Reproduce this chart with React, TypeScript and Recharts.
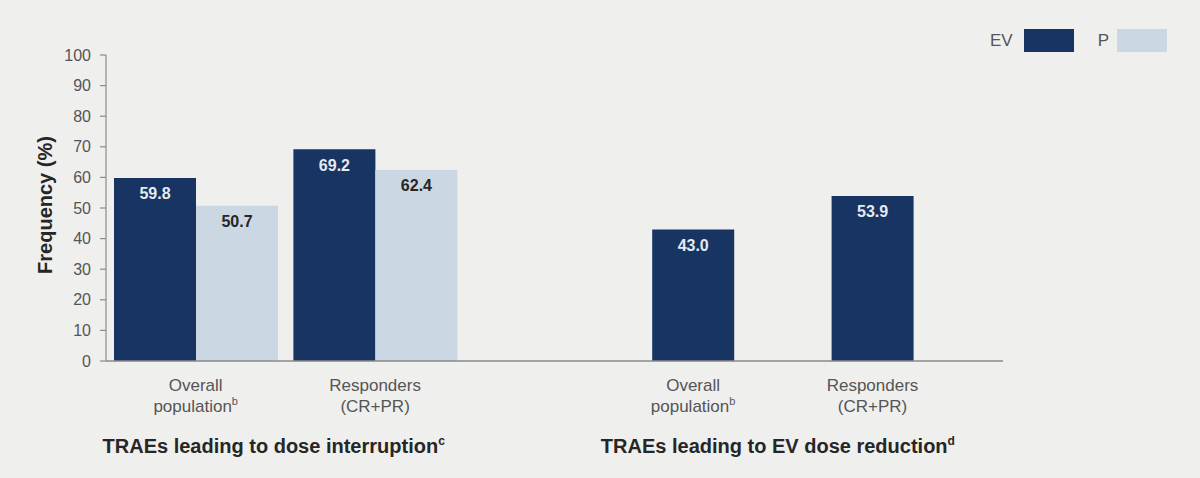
import { BarChart, Bar, XAxis, YAxis, LabelList, Label } from "recharts";

// categories (one empty slot separates the two groups)
const categoryIds = ["c1", "c2", "gap", "c3", "c4"];
const categoryLine1 = ["Overall", "Responders", "", "Overall", "Responders"];
const categoryLine2 = ["population", "(CR+PR)", "", "population", "(CR+PR)"];
const categorySup = ["b", "", "", "b", ""];

// group titles under the axis, anchored on the first category of each group
const groupStartIndex = [0, 3];
const groupTitles = ["TRAEs leading to dose interruption", "TRAEs leading to EV dose reduction"];
const groupSup = ["c", "d"];

// series values (%)
const evValues = [59.8, 69.2, null, 43.0, 53.9];
const pValues = [50.7, 62.4, null, null, null];

const yTicks = [0, 10, 20, 30, 40, 50, 60, 70, 80, 90, 100];
const seriesNames = ["EV", "P"];

const EV_COLOR = "#173462";
const P_COLOR = "#cbd7e3";
const BG = "#efefee";
const FONT = "'Liberation Sans', Arial, sans-serif";

const data = categoryIds.map((id, i) => ({ id, ev: evValues[i], p: pValues[i] }));

const titleShift = [78, 44];
// half a bar: single-bar categories get their label under the EV bar
const HALF_BAR = 40.8;

function CategoryTick(props: any) {
  const { x, y, index } = props;
  const g = groupStartIndex.indexOf(index);
  const lx = pValues[index] == null ? x - HALF_BAR : x;
  return (
    <g fontFamily={FONT}>
      <text x={lx} y={y + 30} textAnchor="middle" fontSize={17} fill="#555">
        {categoryLine1[index]}
      </text>
      <text x={lx} y={y + 51} textAnchor="middle" fontSize={17} fill="#555">
        {categoryLine2[index]}
        {categorySup[index] && (
          <tspan fontSize={11} dy={-7}>
            {categorySup[index]}
          </tspan>
        )}
      </text>
      {g >= 0 && (
        <text
          x={x + titleShift[g]}
          y={y + 92}
          textAnchor="middle"
          fontSize={20}
          fontWeight="bold"
          fill="#262626"
        >
          {groupTitles[g]}
          <tspan fontSize={12} dy={-8}>
            {groupSup[g]}
          </tspan>
        </text>
      )}
    </g>
  );
}

const fmt = (v: any) => (v == null ? "" : Number(v).toFixed(1));

export default function App() {
  return (
    <div
      style={{
        position: "absolute",
        left: 0,
        top: 0,
        width: 1200,
        height: 478,
        background: BG,
        fontFamily: FONT,
      }}
    >
      <div
        style={{
          position: "absolute",
          left: 990,
          top: 29,
          display: "flex",
          alignItems: "center",
          fontSize: 17,
          color: "#555",
        }}
      >
        <span>{seriesNames[0]}</span>
        <span style={{ width: 50, height: 23, background: EV_COLOR, marginLeft: 11 }} />
        <span style={{ marginLeft: 24 }}>{seriesNames[1]}</span>
        <span style={{ width: 50, height: 23, background: P_COLOR, marginLeft: 8 }} />
      </div>
      <BarChart
        width={1200}
        height={478}
        data={data}
        margin={{ top: 55, right: 197, bottom: 0, left: 20 }}
        barCategoryGap={8}
        barGap={0}
      >
        <XAxis
          dataKey="id"
          height={117}
          tickLine={false}
          tickSize={0}
          tickMargin={0}
          stroke="#8a8a8a"
          strokeWidth={1.5}
          interval={0}
          tick={<CategoryTick />}
        />
        <YAxis
          width={86}
          domain={[0, 100]}
          ticks={yTicks}
          interval={0}
          stroke="#8a8a8a"
          strokeWidth={1.2}
          tickSize={6}
          tickMargin={9}
          tick={{ fill: "#555", fontSize: 16, fontFamily: FONT }}
        >
          <Label
            content={(p: any) => {
              const vb = p.viewBox;
              const cx = vb.x + 25;
              const cy = vb.y + vb.height / 2 - 3;
              return (
                <text
                  x={cx}
                  y={cy}
                  transform={`rotate(-90, ${cx}, ${cy})`}
                  textAnchor="middle"
                  dominantBaseline="central"
                  fontSize={20}
                  fontWeight="bold"
                  fontFamily={FONT}
                  fill="#262626"
                >
                  Frequency (%)
                </text>
              );
            }}
          />
        </YAxis>
        <Bar dataKey="ev" name={seriesNames[0]} fill={EV_COLOR} isAnimationActive={false}>
          <LabelList
            dataKey="ev"
            position="insideTop"
            offset={10}
            formatter={fmt}
            fill="#e3eaf3"
            fontSize={16}
            fontWeight="bold"
            fontFamily={FONT}
          />
        </Bar>
        <Bar dataKey="p" name={seriesNames[1]} fill={P_COLOR} isAnimationActive={false}>
          <LabelList
            dataKey="p"
            position="insideTop"
            offset={10}
            formatter={fmt}
            fill="#262626"
            fontSize={16}
            fontWeight="bold"
            fontFamily={FONT}
          />
        </Bar>
      </BarChart>
    </div>
  );
}
